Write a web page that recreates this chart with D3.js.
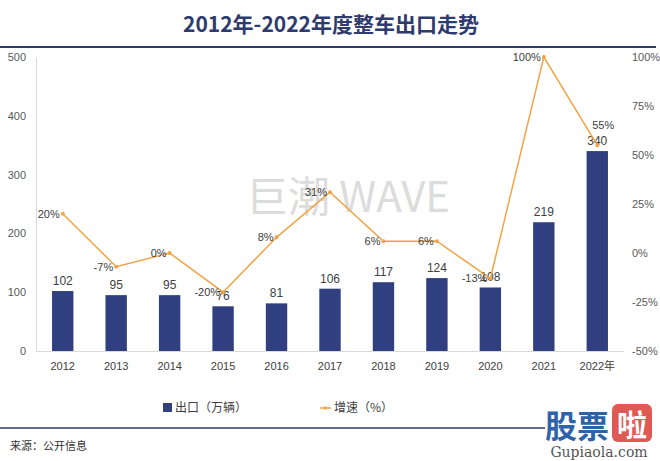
<!DOCTYPE html>
<html><head><meta charset="utf-8">
<script src="https://cdn.jsdelivr.net/npm/d3@7"></script>
<style>body{margin:0;background:#fff;}svg{display:block;font-family:"Noto Sans CJK SC","Noto Sans",sans-serif;}</style>
</head><body>
<script>
const categories = ["2012","2013","2014","2015","2016","2017","2018","2019","2020","2021","2022年"];
const exportsVals = [102,95,95,76,81,106,117,124,108,219,340];
const growthVals = [20,-7,0,-20,8,31,6,6,-13,100,55];
const leftTicks = [0,100,200,300,400,500];
const rightTicks = [-50,-25,0,25,50,75,100];

const W=660,H=461;
const svg=d3.select("body").append("svg").attr("width",W).attr("height",H);
const navy="#2f3f7f", orange="#f0a445", txt="#404040";

svg.append("text").attr("x",331).attr("y",32).attr("text-anchor","middle")
 .attr("font-size",21).attr("font-weight","bold").attr("fill","#2e3b6e")
 .text("2012年-2022年度整车出口走势");
svg.append("line").attr("x1",0).attr("x2",656).attr("y1",47).attr("y2",47).attr("stroke","#2e3b6e").attr("stroke-width",2);

// watermark
svg.append("text").attr("x",348).attr("y",212).attr("text-anchor","middle").attr("font-size",42)
 .attr("fill","#dcdcdc").attr("font-family","'Noto Sans CJK SC','DejaVu Sans',sans-serif").text("巨潮 WAVE");

const x=d3.scaleBand().domain(categories).range([36,624]).paddingInner(0.6).paddingOuter(0.3);
const y=d3.scaleLinear().domain([0,500]).range([351,57]);
const y2=d3.scaleLinear().domain([-50,100]).range([351,57]);

// axes
const gl=svg.append("g").attr("transform","translate(36,0)")
 .call(d3.axisLeft(y).tickValues(leftTicks).tickSize(0).tickPadding(10));
gl.select(".domain").attr("stroke","#d9d9d9");
gl.selectAll("text").attr("font-size",11).attr("fill","#595959").attr("font-family","'Liberation Sans',Arial,sans-serif");
const gr=svg.append("g").attr("transform","translate(624,0)")
 .call(d3.axisRight(y2).tickValues(rightTicks).tickSize(0).tickPadding(8).tickFormat(d=>d+"%"));
gr.select(".domain").remove();
gr.selectAll("text").attr("font-size",11).attr("fill","#595959").attr("font-family","'Liberation Sans',Arial,sans-serif");
const gx=svg.append("g").attr("transform","translate(0,351)")
 .call(d3.axisBottom(x).tickSize(0).tickPadding(11));
gx.select(".domain").attr("stroke","#d9d9d9").attr("d","M36,0.5H624");
gx.selectAll("text").attr("font-size",11).attr("fill","#404040").attr("font-family","'Liberation Sans','Noto Sans CJK SC',sans-serif");

// bars
svg.selectAll("rect.bar").data(exportsVals).enter().append("rect")
 .attr("x",(d,i)=>x(categories[i])).attr("width",x.bandwidth())
 .attr("y",d=>y(d)).attr("height",d=>y(0)-y(d)).attr("fill",navy);
svg.selectAll("text.bl").data(exportsVals).enter().append("text")
 .attr("x",(d,i)=>x(categories[i])+x.bandwidth()/2).attr("y",d=>y(d)-6)
 .attr("text-anchor","middle").attr("font-size",12).attr("fill",txt)
 .attr("font-family","'Liberation Sans',Arial,sans-serif").text(d=>d);

// line
const cx=i=>x(categories[i])+x.bandwidth()/2;
const line=d3.line().x((d,i)=>cx(i)).y(d=>y2(d));
svg.append("path").datum(growthVals).attr("d",line).attr("fill","none").attr("stroke",orange).attr("stroke-width",1.5);
svg.selectAll("circle.pt").data(growthVals).enter().append("circle")
 .attr("cx",(d,i)=>cx(i)).attr("cy",d=>y2(d)).attr("r",2).attr("fill",orange);
svg.selectAll("text.gl").data(growthVals).enter().append("text")
 .attr("x",(d,i)=> i===10 ? cx(i)+6 : cx(i)-3)
 .attr("y",(d,i)=> i===10 ? y2(d)-16 : y2(d)+4)
 .attr("text-anchor",(d,i)=> i===10 ? "middle":"end")
 .attr("font-size",11).attr("fill",txt).attr("font-family","'Liberation Sans',Arial,sans-serif")
 .text(d=>d+"%");

// legend
svg.append("rect").attr("x",163).attr("y",403).attr("width",9).attr("height",9).attr("fill",navy);
svg.append("text").attr("x",175).attr("y",412).attr("font-size",12).attr("fill",txt).text("出口（万辆）");
svg.append("line").attr("x1",320).attr("x2",331).attr("y1",408).attr("y2",408).attr("stroke",orange).attr("stroke-width",1.5);
svg.append("circle").attr("cx",325.5).attr("cy",408).attr("r",1.8).attr("fill",orange);
svg.append("text").attr("x",334).attr("y",412).attr("font-size",12).attr("fill",txt).text("增速（%）");

svg.append("line").attr("x1",0).attr("x2",545).attr("y1",428).attr("y2",428).attr("stroke","#2e3b6e").attr("stroke-width",1.5);
svg.append("text").attr("x",10).attr("y",450).attr("font-size",11).attr("fill","#333").text("来源：公开信息");

// site logo
svg.append("text").attr("x",545).attr("y",438).attr("font-size",32).attr("font-weight","bold").attr("fill","#2f62a8").text("股票");
svg.append("rect").attr("x",612).attr("y",404).attr("width",40).attr("height",38).attr("rx",6).attr("fill","#e05a55");
svg.append("text").attr("x",632).attr("y",436).attr("text-anchor","middle").attr("font-size",30).attr("font-weight","bold").attr("fill","#fff").text("啦");
svg.append("text").attr("x",599).attr("y",457).attr("text-anchor","middle").attr("font-size",14)
 .attr("font-family","'DejaVu Serif',serif").attr("fill","#555").text("Gupiaola.com");
</script>
</body></html>
